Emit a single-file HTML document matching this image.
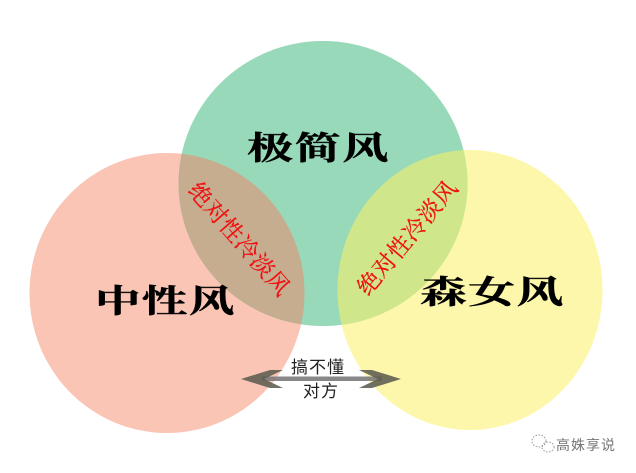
<!DOCTYPE html>
<html><head><meta charset="utf-8"><style>
html,body{margin:0;padding:0;background:#fff;width:636px;height:473px;overflow:hidden}
svg{display:block}
text{font-family:"Liberation Sans","Noto Serif CJK SC","Noto Sans CJK SC",serif}
.h{font-size:33px;font-weight:700;fill:#000;stroke:#000;stroke-width:.4px}
.r{font-family:"Liberation Serif","Noto Serif CJK SC",serif;font-size:23px;fill:#f01010;stroke:#f01010;stroke-width:.25px}
.s{font-family:"Liberation Serif","Noto Sans CJK SC",sans-serif;font-size:17px;fill:#222}
.w{font-family:"Liberation Sans","Noto Sans CJK SC",sans-serif;font-size:14px;fill:#777}
</style></head><body>
<svg width="636" height="473" viewBox="0 0 636 473" xmlns="http://www.w3.org/2000/svg">
<defs>
<clipPath id="g"><ellipse cx="323" cy="183.500" rx="144.500" ry="142.500"/></clipPath>
</defs>
<ellipse cx="167" cy="293" rx="137.500" ry="140" fill="#fac5b5"/>
<ellipse cx="470" cy="290" rx="132.500" ry="140" fill="#fdf7ab"/>
<ellipse cx="323" cy="183.500" rx="144.500" ry="142.500" fill="#98d9b9"/>
<g clip-path="url(#g)">
<ellipse cx="167" cy="293" rx="137.500" ry="140" fill="#c6ad8f"/>
<ellipse cx="470" cy="290" rx="132.500" ry="140" fill="#cfe78a"/>
</g>
<text class="h" transform="translate(247,159) scale(1.4,.96)" letter-spacing="1">极简风</text>
<text class="h" transform="translate(95,312) scale(1.38,.96)" letter-spacing="1">中性风</text>
<text class="h" transform="translate(420,303) scale(1.42,.96)" letter-spacing="1">森女风</text>
<text class="r" transform="translate(187,191) rotate(49)" textLength="141">绝对性冷淡风</text>
<text class="r" transform="translate(368,297) rotate(-50)" textLength="141">绝对性冷淡风</text>
<g fill="#5c5c50" fill-opacity=".88">
<rect x="262" y="376.500" width="120" height="4.500" fill="#777"/>
<path d="M241 379 L270 370 L283 370 L264 379 L283 388 L270 388 Z"/>
<path d="M401 379 L372 370 L359 370 L378 379 L359 388 L372 388 Z"/>
</g>
<text class="s" x="291" y="373" textLength="53">搞不懂</text>
<text class="s" x="303" y="397" textLength="35">对方</text>
<g fill="none" stroke="#999" stroke-width="1" stroke-dasharray="1.500 1.500">
<ellipse cx="539" cy="441" rx="7" ry="6"/>
<ellipse cx="548" cy="447" rx="6" ry="5"/>
</g>
<text class="w" x="556" y="450" textLength="59">高姝享说</text>
</svg>
</body></html>
